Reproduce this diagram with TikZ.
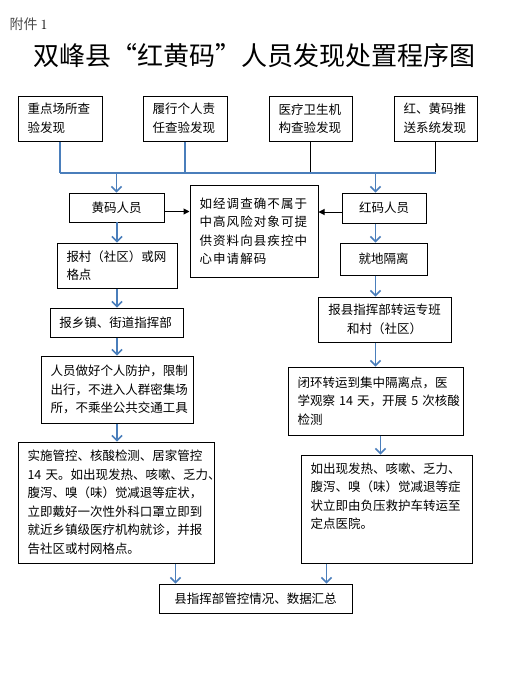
\documentclass[tikz,border=0pt]{standalone}
\usepackage{fontspec}
\usetikzlibrary{arrows.meta}
\newfontfamily\cjk{Noto Sans CJK SC}
\definecolor{lineblue}{RGB}{74,126,187}

\begin{document}
\begin{tikzpicture}[x=1pt,y=-1pt,
    every node/.style={font=\cjk\fontsize{12.5}{18.5}\selectfont},
    box/.style={draw,line width=1pt,inner xsep=9.5pt,inner ysep=3pt,align=left},
    cbox/.style={draw,line width=1pt,inner sep=3pt,align=center},
    barrow/.style={draw=lineblue,line width=1.5pt,-{Straight Barb[length=5pt,width=10pt]}},
    karrow/.style={line width=1pt,-{Triangle[length=6pt,width=6pt]}},
    bline/.style={draw=lineblue,line width=1.2pt},
    kline/.style={line width=1.2pt}]
    \path[fill=white,use as bounding box] (0,0) rectangle (513,673);

    % title
    \node[anchor=west,font=\cjk\fontsize{14}{16}\selectfont] (att) at (6,24) {\textcolor{black!70}{附件} {\rmfamily 1}};
    \node[font=\cjk\fontsize{26}{30}\selectfont] (title) at (255,55.5) {双峰县“红黄码”人员发现处置程序图};

    % sources
    \node[box,text width=65pt,minimum height=45pt] (src1) at (60,118.5) {重点场所查\\验发现};
    \node[box,text width=65pt,minimum height=45pt] (src2) at (185,118.5) {履行个人责\\任查验发现};
    \node[box,text width=64pt,minimum height=45pt] (src3) at (310.5,118.5) {医疗卫生机\\构查验发现};
    \node[box,text width=64pt,minimum height=45pt] (src4) at (435.5,118.5) {红、黄码推\\送系统发现};
    \coordinate (bus) at (0,173);

    % yellow / red
    \node[cbox,minimum width=95pt,minimum height=29pt] (yel) at (116.5,207.5) {黄码人员};
    \node[cbox,minimum width=84pt,minimum height=30pt] (red) at (384,208) {红码人员};
    \node[box,text width=109pt,minimum height=92pt,font=\cjk\fontsize{12.5}{18.5}\selectfont\addfontfeature{LetterSpace=8.8}] (mid) at (254,231)
        {如经调查确不属于\\中高风险对象可提\\供资料向县疾控中\\心申请解码};

    % left column
    \node[box,text width=101pt,minimum height=45pt] (rep1) at (117,265.5) {报村（社区）或网\\格点};
    \node[box,text width=114pt,minimum height=29pt] (rep2) at (116.5,322.5) {报乡镇、街道指挥部};
    \node[box,text width=133pt,minimum height=67pt] (prot) at (117,389.5)
        {人员做好个人防护，限制\\出行，不进入人群密集场\\所，不乘坐公共交通工具};
    \node[box,text width=177pt,minimum height=121pt] (ctrl) at (116,502.5)
        {实施管控、核酸检测、居家管控\\14~天。如出现发热、咳嗽、乏力、\\腹泻、嗅（味）觉减退等症状，\\立即戴好一次性外科口罩立即到\\就近乡镇级医疗机构就诊，并报\\告社区或村网格点。};

    % right column
    \node[cbox,minimum width=87pt,minimum height=32pt] (iso) at (383.5,259) {就地隔离};
    \node[cbox,minimum width=133pt,minimum height=45pt] (rep3) at (384.5,319.5) {报县指挥部转运专班\\和村（社区）};
    \node[box,text width=156pt,minimum height=68pt] (trans) at (375.5,401)
        {闭环转运到集中隔离点，医\\学观察~14~天，开展~5~次核酸\\检测};
    \node[box,text width=152pt,text height=15pt,text depth=87pt] (sympt) at (386.5,509)
        {如出现发热、咳嗽、乏力、\\腹泻、嗅（味）觉减退等症\\状立即由负压救护车转运至\\定点医院。};

    % summary
    \node[cbox,minimum width=193pt,minimum height=29pt] (sum) at (255.5,598.5) {县指挥部管控情况、数据汇总};
    \coordinate (sumL) at ([xshift=17pt]sum.north west);
    \coordinate (sumR) at ([xshift=-26pt]sum.north east);

    % connectors
    \draw[bline] (src1.south) -- (src1.south |- bus);
    \draw[bline] (src2.south) -- (src2.south |- bus);
    \draw[kline] (src3.south) -- (src3.south |- bus);
    \draw[kline] (src4.south) -- (src4.south |- bus);
    \draw[bline] (src1.south |- bus) -- (src4.south |- bus);
    \draw[barrow] (yel.north |- bus) -- (yel.north);
    \draw[barrow] (trans.north |- bus) -- (trans.north |- red.north);

    \coordinate (yelout) at ([yshift=-4pt]yel.east);
    \coordinate (redout) at ([yshift=-4pt]red.west);
    \draw[karrow] (yelout) -- (yelout -| mid.west);
    \draw[karrow] (redout) -- (redout -| mid.east);

    \draw[barrow] (yel.south) -- (yel.south -| rep1.north) -- (rep1.north);
    \draw[barrow] (rep1.south) -- (rep2.north -| rep1.south);
    \draw[barrow] (rep2.south -| prot.north) -- (prot.north);
    \draw[barrow] (prot.south) -- (prot.south |- ctrl.north);
    \draw[barrow] (sumL |- ctrl.south) -- (sumL);

    \draw[barrow] (trans.north |- red.south) -- (trans.north |- iso.north);
    \draw[barrow] (trans.north |- iso.south) -- (trans.north |- rep3.north);
    \draw[barrow] (trans.north |- rep3.south) -- (trans.north);
    \coordinate (tdown) at ([xshift=5pt]trans.south);
    \draw[barrow] (tdown) -- (tdown |- sympt.north);
    \draw[barrow] (sumR |- sympt.south) -- (sumR);
\end{tikzpicture}
\end{document}
